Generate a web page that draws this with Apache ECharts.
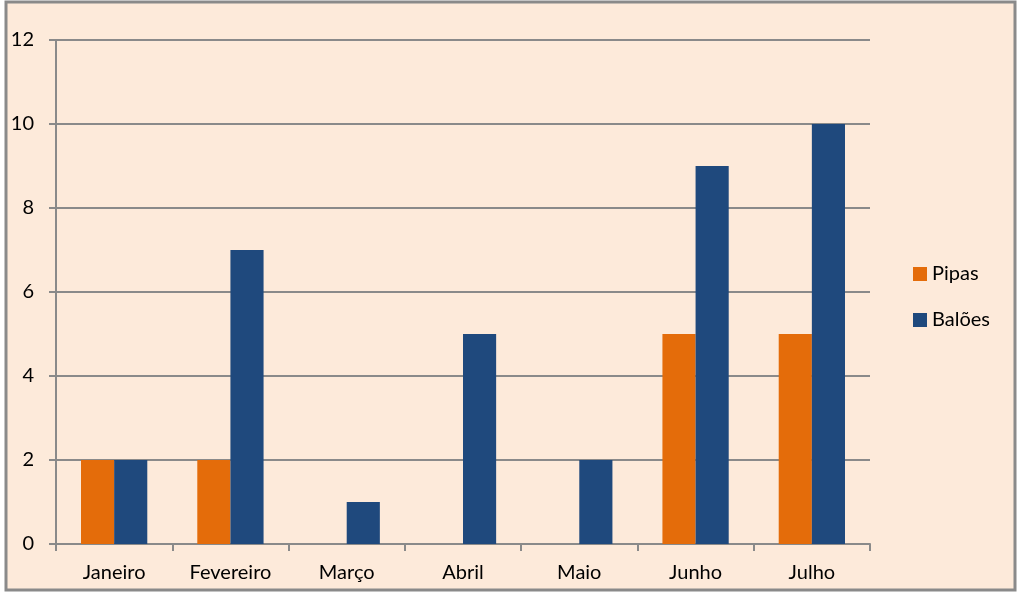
<!DOCTYPE html>
<html><head><meta charset="utf-8">
<script src="https://cdn.jsdelivr.net/npm/echarts@6/dist/echarts.min.js"></script>
<style>html,body{margin:0;padding:0;background:#fff}#c{width:1024px;height:594px}</style>
</head><body><div id="c"></div>
<script>
const categories = ['Janeiro','Fevereiro','Março','Abril','Maio','Junho','Julho'];
const pipas = [2,2,0,0,0,5,5];
const baloes = [2,7,1,5,2,9,10];
const seriesNames = ['Pipas','Balões'];

const chart = echarts.init(document.getElementById('c'));
const font = "Lato, 'Open Sans', sans-serif";
chart.setOption({
  animation:false,
  backgroundColor:'#ffffff',
  textStyle:{fontFamily:font},
  graphic:[{type:'rect',z:-10,shape:{x:6,y:2,width:1009,height:588},style:{fill:'#FDEADA',stroke:'#8A8A8A',lineWidth:3}}],
  grid:{left:56,right:154,top:40,bottom:50},
  legend:{orient:'vertical',left:908,top:259,itemWidth:14,itemHeight:14,itemGap:26,icon:'rect',
    textStyle:{fontSize:20,color:'#000',fontFamily:font},data:seriesNames},
  xAxis:{type:'category',data:categories,
    axisLine:{lineStyle:{color:'#8A8A8A',width:2}},
    axisTick:{show:true,length:7,lineStyle:{color:'#8A8A8A',width:2}},
    axisLabel:{fontSize:20,color:'#000',margin:19,fontFamily:font}},
  yAxis:{type:'value',min:0,max:12,interval:2,
    axisLine:{show:true,lineStyle:{color:'#8A8A8A',width:2}},
    axisTick:{show:true,length:7,lineStyle:{color:'#8A8A8A',width:2}},
    splitLine:{lineStyle:{color:'#8A8A8A',width:2}},
    axisLabel:{fontSize:20,color:'#000',margin:22,fontFamily:font}},
  series:[
    {name:seriesNames[0],type:'bar',data:pipas,barGap:'0%',barCategoryGap:'43%',itemStyle:{color:'#E46C0A'}},
    {name:seriesNames[1],type:'bar',data:baloes,barGap:'0%',barCategoryGap:'43%',itemStyle:{color:'#1F497D'}}
  ]
});
</script></body></html>
